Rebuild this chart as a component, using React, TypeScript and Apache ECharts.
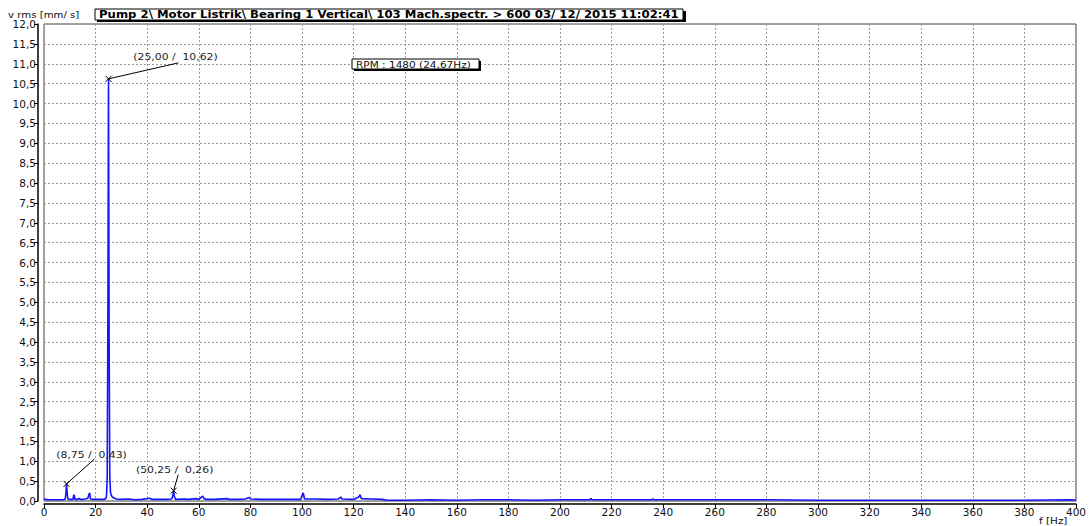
import React, { useEffect, useRef } from "react";
import * as echarts from "echarts";

// Spectrum (frequency in Hz, velocity rms in mm/s)
const freqHz = [
  0, 0.5, 2, 5, 7.5, 8.25, 8.5, 8.75, 9.0, 9.25, 10, 11.25, 11.5, 11.75, 12, 13, 13.5, 14, 15, 16, 17,
  17.5, 17.75, 18, 19, 21, 23, 24, 24.25, 24.5, 24.75, 25, 25.25, 25.5, 25.75, 26, 26.5, 27, 28, 30,
  33, 35, 38, 41, 42, 45, 47, 49.5, 50, 50.25, 50.5, 51, 54, 56, 59, 60, 61.5, 62, 63, 66, 71, 72, 76,
  78, 79.5, 80, 84, 90, 95, 99.5, 100.25, 100.5, 101, 105, 110, 114, 115, 115.5, 120, 122, 122.5, 123,
  127, 131, 133, 140, 150, 160, 170, 180, 190, 200, 211.5, 212, 212.5, 220, 235.5, 236, 236.5, 240,
  260, 280, 300, 320, 340, 360, 380, 398, 400,
];
const ampMms = [
  0.05, 0.04, 0.03, 0.03, 0.03, 0.05, 0.2, 0.43, 0.2, 0.05, 0.04, 0.04, 0.15, 0.14, 0.04, 0.04, 0.07,
  0.04, 0.04, 0.05, 0.07, 0.18, 0.2, 0.05, 0.04, 0.04, 0.04, 0.06, 0.15, 0.6, 4.5, 10.62, 4.0, 0.6,
  0.25, 0.15, 0.1, 0.08, 0.05, 0.04, 0.05, 0.03, 0.04, 0.07, 0.04, 0.04, 0.04, 0.05, 0.15, 0.26, 0.12,
  0.04, 0.05, 0.04, 0.06, 0.04, 0.12, 0.06, 0.04, 0.04, 0.06, 0.04, 0.04, 0.05, 0.09, 0.05, 0.04, 0.04,
  0.04, 0.04, 0.18, 0.2, 0.05, 0.05, 0.04, 0.05, 0.1, 0.05, 0.04, 0.1, 0.16, 0.06, 0.05, 0.04, 0.02,
  0.02, 0.03, 0.02, 0.03, 0.03, 0.02, 0.03, 0.03, 0.06, 0.03, 0.03, 0.03, 0.05, 0.03, 0.03, 0.03,
  0.03, 0.02, 0.02, 0.02, 0.02, 0.02, 0.03, 0.02,
];

// Annotated peaks
const peakFreqs = [25.0, 8.75, 50.25];
const peakAmps = [10.62, 0.43, 0.26];

// Axis ranges
const xMin = 0;
const xMax = 400;
const xStep = 20;
const yMin = 0;
const yMax = 12;
const yStep = 0.5;

const titleText =
  "Pump 2\\ Motor Listrik\\ Bearing 1 Vertical\\ 103 Mach.spectr. > 600 03/ 12/ 2015 11:02:41";
const rpmText = "RPM : 1480 (24,67Hz)";
const yAxisName = "v rms [mm/ s]";
const xAxisName = "f [Hz]";

const FONT = "DejaVu Sans";

export default function App() {
  const ref = useRef<HTMLDivElement>(null);

  useEffect(() => {
    document.body.style.margin = "0";
    const chart = echarts.init(ref.current!, undefined, { renderer: "svg" });
    const fmt = (v: number, d: number) => v.toFixed(d).replace(".", ",");
    const data = freqHz.map((f, i) => [f, ampMms[i]]);
    const gridLine = { show: true, lineStyle: { color: "#9a9a9a", type: [2, 2], width: 1 } };

    chart.setOption({
      animation: false,
      grid: {
        left: 44,
        right: 6,
        top: 24,
        bottom: 25,
        show: true,
        borderColor: "#444",
        borderWidth: 1,
      },
      xAxis: {
        type: "value",
        min: xMin,
        max: xMax,
        interval: xStep,
        offset: 3,
        axisLine: { show: true, onZero: false, lineStyle: { color: "#000", width: 1.5 } },
        axisTick: { show: true, length: 4, lineStyle: { color: "#000" } },
        axisLabel: {
          color: "#111",
          fontFamily: FONT,
          fontSize: 10.5,
          margin: 2,
          showMaxLabel: true,
          showMinLabel: true,
          hideOverlap: false,
        },
        splitLine: gridLine,
      },
      yAxis: {
        type: "value",
        min: yMin,
        max: yMax,
        interval: yStep,
        offset: 6,
        axisLine: { show: true, onZero: false, lineStyle: { color: "#000", width: 1.5 } },
        axisTick: { show: true, length: 4, lineStyle: { color: "#000" } },
        axisLabel: {
          color: "#111",
          fontFamily: FONT,
          fontSize: 10.5,
          margin: 2,
          formatter: (v: number) => fmt(v, 1),
          showMaxLabel: true,
          showMinLabel: true,
        },
        splitLine: gridLine,
      },
      series: [
        {
          type: "line",
          data,
          showSymbol: false,
          symbol: "none",
          lineStyle: { color: "#1414ff", width: 1.6 },
          clip: true,
        },
      ],
    });

    // Annotation layout offsets (label centre and leader line end, relative to peak)
    const labelOffsets = [
      { lx: 67, ly: -22, ex: 70, ey: -16 },
      { lx: 25, ly: -29, ex: 28, ey: -25 },
      { lx: 1, ly: -21, ex: 4.5, ey: -16 },
    ];

    const graphics: any[] = [];
    peakFreqs.forEach((f, i) => {
      const a = peakAmps[i];
      const p = chart.convertToPixel({ xAxisIndex: 0, yAxisIndex: 0 }, [f, a]) as number[];
      const o = labelOffsets[i];
      const s = 3;
      graphics.push(
        { type: "line", shape: { x1: p[0] - s, y1: p[1] - s, x2: p[0] + s, y2: p[1] + s }, style: { stroke: "#000", lineWidth: 1 }, z: 10 },
        { type: "line", shape: { x1: p[0] - s, y1: p[1] + s, x2: p[0] + s, y2: p[1] - s }, style: { stroke: "#000", lineWidth: 1 }, z: 10 },
        { type: "line", shape: { x1: p[0], y1: p[1], x2: p[0] + o.ex, y2: p[1] + o.ey }, style: { stroke: "#000", lineWidth: 1 }, z: 10 },
        {
          type: "text",
          x: p[0] + o.lx,
          y: p[1] + o.ly,
          scaleX: 1.14,
          style: {
            text: `(${fmt(f, 2)} /  ${fmt(a, 2)})`,
            font: `9.5px '${FONT}'`,
            fill: "#222",
            align: "center",
            verticalAlign: "middle",
          },
          z: 11,
        }
      );
    });

    graphics.push(
      // y axis name
      { type: "text", x: 8, y: 15, scaleX: 1.13, style: { text: yAxisName, font: `9px '${FONT}'`, fill: "#111", verticalAlign: "middle" } },
      // x axis name
      { type: "text", x: 1039, y: 521, scaleX: 1.16, style: { text: xAxisName, font: `9px '${FONT}'`, fill: "#111", verticalAlign: "middle" } },
      // title box with shadow
      { type: "rect", shape: { x: 97, y: 11, width: 589, height: 11 }, style: { fill: "#000" } },
      { type: "rect", shape: { x: 95, y: 9, width: 588, height: 11 }, style: { fill: "#fff", stroke: "#000", lineWidth: 1 } },
      { type: "text", x: 99, y: 15, scaleX: 1.17, style: { text: titleText, font: `bold 10px '${FONT}'`, fill: "#000", verticalAlign: "middle" } },
      // RPM box with shadow
      { type: "rect", shape: { x: 354, y: 61, width: 127, height: 10 }, style: { fill: "#000" }, z: 20 },
      { type: "rect", shape: { x: 352, y: 59, width: 127, height: 10 }, style: { fill: "#fff", stroke: "#000", lineWidth: 1 }, z: 21 },
      { type: "text", x: 356, y: 64.5, scaleX: 1.17, style: { text: rpmText, font: `9px '${FONT}'`, fill: "#111", verticalAlign: "middle" }, z: 22 }
    );

    chart.setOption({ graphic: graphics });

    return () => chart.dispose();
  }, []);

  return <div ref={ref} style={{ width: 1089, height: 526 }} />;
}
